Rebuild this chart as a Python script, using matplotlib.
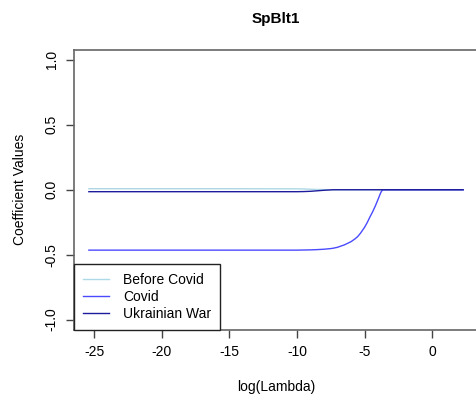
import matplotlib
matplotlib.use('Agg')
import matplotlib.pyplot as plt

plt.rcParams['font.family'] = ['Liberation Sans', 'DejaVu Sans']

# coefficient paths along log(lambda)
log_lambda = [-25.4, -15, -10, -9.5, -9, -8.5, -8, -7.5, -7.3, -7, -6.5, -6, -5.7, -5.5,
              -5.3, -5, -4.8, -4.6, -4.4, -4.2, -4.1, -3.95, -3.85, -3.75, -3.65, -3, 0, 2.3]
before_covid = [0.008, 0.008, 0.007, 0.006, 0.004, 0.002, 0.001, 0, 0, 0, 0, 0, 0, 0,
                0, 0, 0, 0, 0, 0, 0, 0, 0, 0, 0, 0, 0, 0]
covid = [-0.465, -0.465, -0.465, -0.464, -0.463, -0.461, -0.458, -0.453, -0.450, -0.443,
         -0.425, -0.400, -0.378, -0.360, -0.335, -0.290, -0.253, -0.210, -0.170, -0.125,
         -0.100, -0.062, -0.035, -0.013, 0, 0, 0, 0]
ukrainian_war = [-0.015, -0.015, -0.015, -0.014, -0.012, -0.008, -0.004, -0.001, 0, 0, 0, 0, 0, 0,
                 0, 0, 0, 0, 0, 0, 0, 0, 0, 0, 0, 0, 0, 0]

x_ticks = [-25, -20, -15, -10, -5, 0]
y_ticks = [-1.0, -0.5, 0.0, 0.5, 1.0]

fig = plt.figure(figsize=(4.77, 4.05), dpi=100)
ax = fig.add_axes([74 / 477, 75 / 405, 404 / 477, 280.5 / 405])

ax.plot(log_lambda, before_covid, color='#add8e6', lw=1.0, label='Before Covid')
ax.plot(log_lambda, covid, color='#4a4aff', lw=1.0, label='Covid')
ax.plot(log_lambda, ukrainian_war, color='#1c1c9c', lw=1.0, label='Ukrainian War')

ax.set_xlim(-26.5, 3.4)
ax.set_ylim(-1.08, 1.08)
ax.set_xticks(x_ticks)
ax.set_xticklabels([f'{t:g}' for t in x_ticks])
ax.set_yticks(y_ticks)
ax.set_yticklabels([f'{t:.1f}' for t in y_ticks], rotation=90, va='center')
ax.tick_params(direction='out', length=6, width=1, color='#444444', labelsize=10, pad=5)
for s in ax.spines.values():
    s.set_color('#666666')
    s.set_linewidth(1.2)

ax.set_xlabel('log(Lambda)', fontsize=10, labelpad=15)
ax.set_ylabel('Coefficient Values', fontsize=10, labelpad=13)
ax.set_title('SpBlt1', fontsize=11, fontweight='bold', pad=19)

leg = ax.legend(loc='lower left', borderaxespad=0, fancybox=False, framealpha=1,
                edgecolor='#222222', fontsize=10, handlelength=1.9, handletextpad=1.0,
                labelspacing=0.22, borderpad=0.65)
leg.get_frame().set_linewidth(1.0)

fig.savefig('out.png', dpi=100)
